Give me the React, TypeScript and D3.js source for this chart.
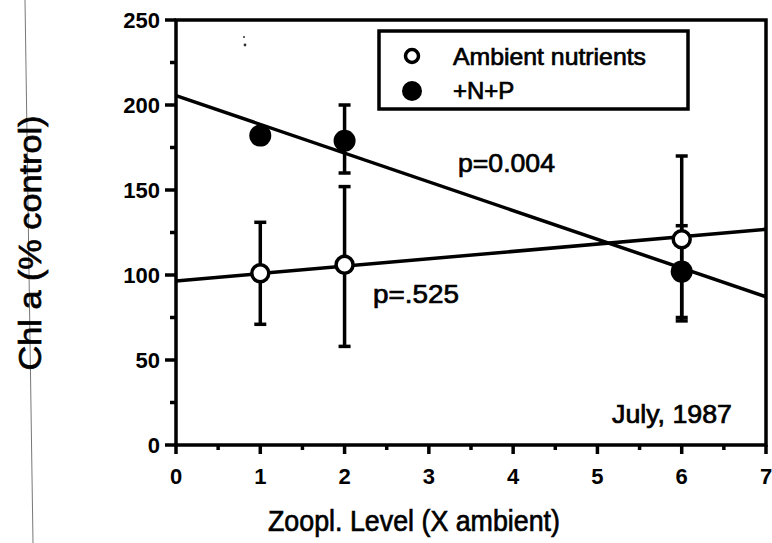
import React from "react";
import * as d3 from "d3";

const xLevels = [1, 2, 6];
const ambientMean = [101, 106, 121];
const ambientLow = [71, 58, 73];
const ambientHigh = [131, 152, 170];
const nutrientMean = [182, 179, 102];
const nutrientLow = [182, 160, 75];
const nutrientHigh = [182, 200, 129];
const fitX = [0, 7];
const fitAmbient = [96.5, 126.9];
const fitNutrient = [205.5, 87.2];
const xTicks = [0, 1, 2, 3, 4, 5, 6, 7];
const yTicks = [0, 50, 100, 150, 200, 250];
const legendLabels = ["Ambient nutrients", "+N+P"];

const FONT = "'Liberation Sans', Arial, Helvetica, sans-serif";

export default function App() {
  const W = 772, H = 543;
  const x = d3.scaleLinear().domain([0, 7]).range([176, 766]);
  const y = d3.scaleLinear().domain([0, 250]).range([445, 20]);
  const line = d3.line<[number, number]>().x(d => x(d[0])).y(d => y(d[1]));
  const xMinor = d3.range(0.5, 7, 1);
  const yMinor = d3.range(25, 250, 50);
  const capW = 6;
  const SW = 3.5;
  const thick = { stroke: "#000", strokeWidth: 0.7 } as any;

  const errBar = (xi: number, lo: number, hi: number, key: string) =>
    lo === hi ? null : (
      <g key={key} stroke="#000" strokeWidth={3.5}>
        <line x1={x(xi)} x2={x(xi)} y1={y(lo)} y2={y(hi)} />
        <line x1={x(xi) - capW} x2={x(xi) + capW} y1={y(lo)} y2={y(lo)} />
        <line x1={x(xi) - capW} x2={x(xi) + capW} y1={y(hi)} y2={y(hi)} />
      </g>
    );

  return (
    <svg width={W} height={H} style={{ position: "absolute", left: 0, top: 0, background: "#fff" }} fontFamily={FONT}>
      <rect width={W} height={H} fill="#fff" />
      {/* scan artifact line */}
      <line x1={25} y1={0} x2={33} y2={543} stroke="#777" strokeWidth={1} />
      <circle cx={244} cy={37} r={1} fill="#333" />
      <circle cx={245} cy={45} r={1.4} fill="#333" />

      {/* frame */}
      <rect x={x(0)} y={y(250)} width={x(7) - x(0)} height={y(0) - y(250)} fill="none" stroke="#000" strokeWidth={SW} />

      {/* y ticks */}
      {yTicks.map(t => (
        <g key={"yt" + t}>
          <line x1={x(0) - 11} x2={x(0)} y1={y(t)} y2={y(t)} stroke="#000" strokeWidth={SW} />
          <text x={160} y={y(t)} dy="0.36em" textAnchor="end" fontSize={22} fontWeight="bold">{t}</text>
        </g>
      ))}
      {yMinor.map(t => (
        <line key={"ym" + t} x1={x(0) - 6} x2={x(0)} y1={y(t)} y2={y(t)} stroke="#000" strokeWidth={SW} />
      ))}

      {/* x ticks */}
      {xTicks.map(t => (
        <g key={"xt" + t}>
          <line x1={x(t)} x2={x(t)} y1={y(0)} y2={y(0) + 9} stroke="#000" strokeWidth={SW} />
          <text x={x(t)} y={484} textAnchor="middle" fontSize={22} fontWeight="bold">{t}</text>
        </g>
      ))}
      {xMinor.map(t => (
        <line key={"xm" + t} x1={x(t)} x2={x(t)} y1={y(0)} y2={y(0) + 5} stroke="#000" strokeWidth={SW} />
      ))}

      {/* regression lines */}
      <path d={line(fitX.map((v, i) => [v, fitNutrient[i]]) as any) || ""} stroke="#000" strokeWidth={SW} fill="none" />
      <path d={line(fitX.map((v, i) => [v, fitAmbient[i]]) as any) || ""} stroke="#000" strokeWidth={SW} fill="none" />

      {/* error bars */}
      {xLevels.map((xi, i) => errBar(xi, ambientLow[i], ambientHigh[i], "ea" + i))}
      {xLevels.map((xi, i) => errBar(xi, nutrientLow[i], nutrientHigh[i], "en" + i))}

      {/* points */}
      {xLevels.map((xi, i) => (
        <circle key={"pn" + i} cx={x(xi)} cy={y(nutrientMean[i])} r={11} fill="#000" />
      ))}
      {xLevels.map((xi, i) => (
        <circle key={"pa" + i} cx={x(xi)} cy={y(ambientMean[i])} r={8.5} fill="#fff" stroke="#000" strokeWidth={3.5} />
      ))}

      {/* labels in plot */}
      <text x={458} y={172} fontSize={26} textLength={97} lengthAdjust="spacingAndGlyphs" {...thick}>p=0.004</text>
      <text x={373} y={303} fontSize={26} textLength={86} lengthAdjust="spacingAndGlyphs" {...thick}>p=.525</text>
      <text x={612} y={423} fontSize={25} textLength={120} lengthAdjust="spacingAndGlyphs" {...thick}>July, 1987</text>

      {/* legend */}
      <rect x={379} y={31} width={309} height={78} fill="#fff" stroke="#000" strokeWidth={SW} />
      <circle cx={412} cy={56} r={6.5} fill="#fff" stroke="#000" strokeWidth={3.5} />
      <circle cx={412} cy={91} r={10} fill="#000" />
      <text x={453} y={65} fontSize={24} textLength={193} lengthAdjust="spacingAndGlyphs" {...thick}>{legendLabels[0]}</text>
      <text x={453} y={99} fontSize={24} {...thick}>{legendLabels[1]}</text>

      {/* axis titles */}
      <text x={414} y={531} textAnchor="middle" fontSize={30} textLength={292} lengthAdjust="spacingAndGlyphs" {...thick}>Zoopl. Level (X ambient)</text>
      <text transform="translate(41,243) rotate(-90)" textAnchor="middle" fontSize={32} textLength={255} lengthAdjust="spacingAndGlyphs" {...thick}>Chl a (% control)</text>
    </svg>
  );
}
